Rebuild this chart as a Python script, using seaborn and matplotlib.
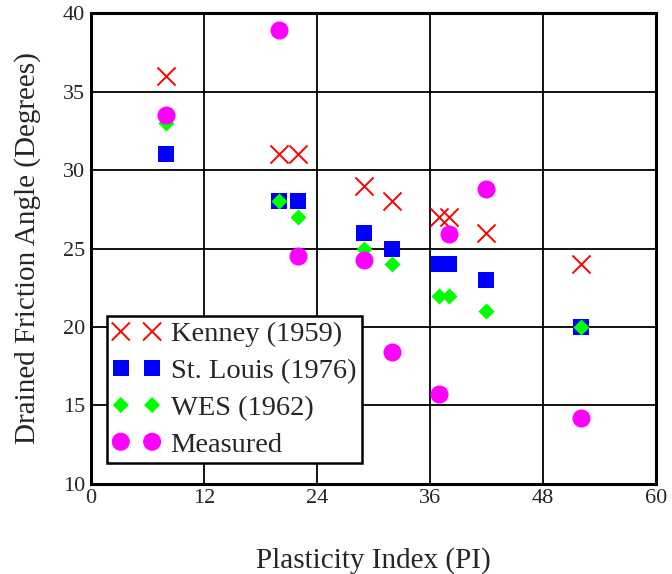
import matplotlib
matplotlib.use("Agg")
import matplotlib.pyplot as plt
import seaborn as sns

# Plasticity index of each sample and the friction angle from each method
pi = [8, 20, 22, 29, 32, 37, 38, 42, 52]
kenney = [36, 31, 31, 29, 28, 27, 27, 26, 24]
st_louis = [31, 28, 28, 26, 25, 24, 24, 23, 20]
wes = [33, 28, 27, 25, 24, 22, 22, 21, 20]
measured = [33.5, 38.9, 24.5, 24.3, 18.4, 15.7, 25.9, 28.8, 14.2]

x_ticks = [0, 12, 24, 36, 48, 60]
y_ticks = [10, 15, 20, 25, 30, 35, 40]

sns.set_style("white")
plt.rcParams['font.family'] = ['Liberation Serif', 'DejaVu Serif']

fig = plt.figure(figsize=(6.72, 5.74), dpi=100)
ax = fig.add_axes([0.135, 0.157, 0.841, 0.820])

sns.scatterplot(x=pi, y=kenney, marker='x', color='#ff0000', s=13 ** 2,
                linewidth=1.4, label='Kenney (1959)', ax=ax, zorder=3)
sns.scatterplot(x=pi, y=st_louis, marker='s', color='#0000ff', s=11.5 ** 2,
                linewidth=0, label='St. Louis (1976)', ax=ax, zorder=3)
sns.scatterplot(x=pi, y=wes, marker='D', color='#00ff00', s=8.2 ** 2,
                linewidth=0, label='WES (1962)', ax=ax, zorder=3)
sns.scatterplot(x=pi, y=measured, marker='o', color='#ff00ff', s=13 ** 2,
                linewidth=0, label='Measured', ax=ax, zorder=3)

ax.set_xlim(0, 60)
ax.set_ylim(10, 40)
ax.set_xticks(x_ticks)
ax.set_yticks(y_ticks)
ax.grid(True, color='black', linewidth=1.3)
ax.set_axisbelow(True)
ax.tick_params(length=0, labelsize=16, pad=4)
for sp in ax.spines.values():
    sp.set_color('black')
    sp.set_linewidth(2.2)

ax.set_xlabel('Plasticity Index (PI)', fontsize=21, labelpad=28)
ax.set_ylabel('Drained Friction Angle (Degrees)', fontsize=21, labelpad=16)

leg = ax.legend(loc='upper left', bbox_to_anchor=(0.028, 0.357), scatterpoints=2,
                scatteryoffsets=[0.5], fontsize=20.5, frameon=True, fancybox=False,
                edgecolor='black', framealpha=1, borderpad=0.2, labelspacing=0.38,
                handletextpad=0.35, borderaxespad=0, handlelength=1.7)
leg.get_frame().set_linewidth(1.8)

fig.savefig('out.png', dpi=100)
